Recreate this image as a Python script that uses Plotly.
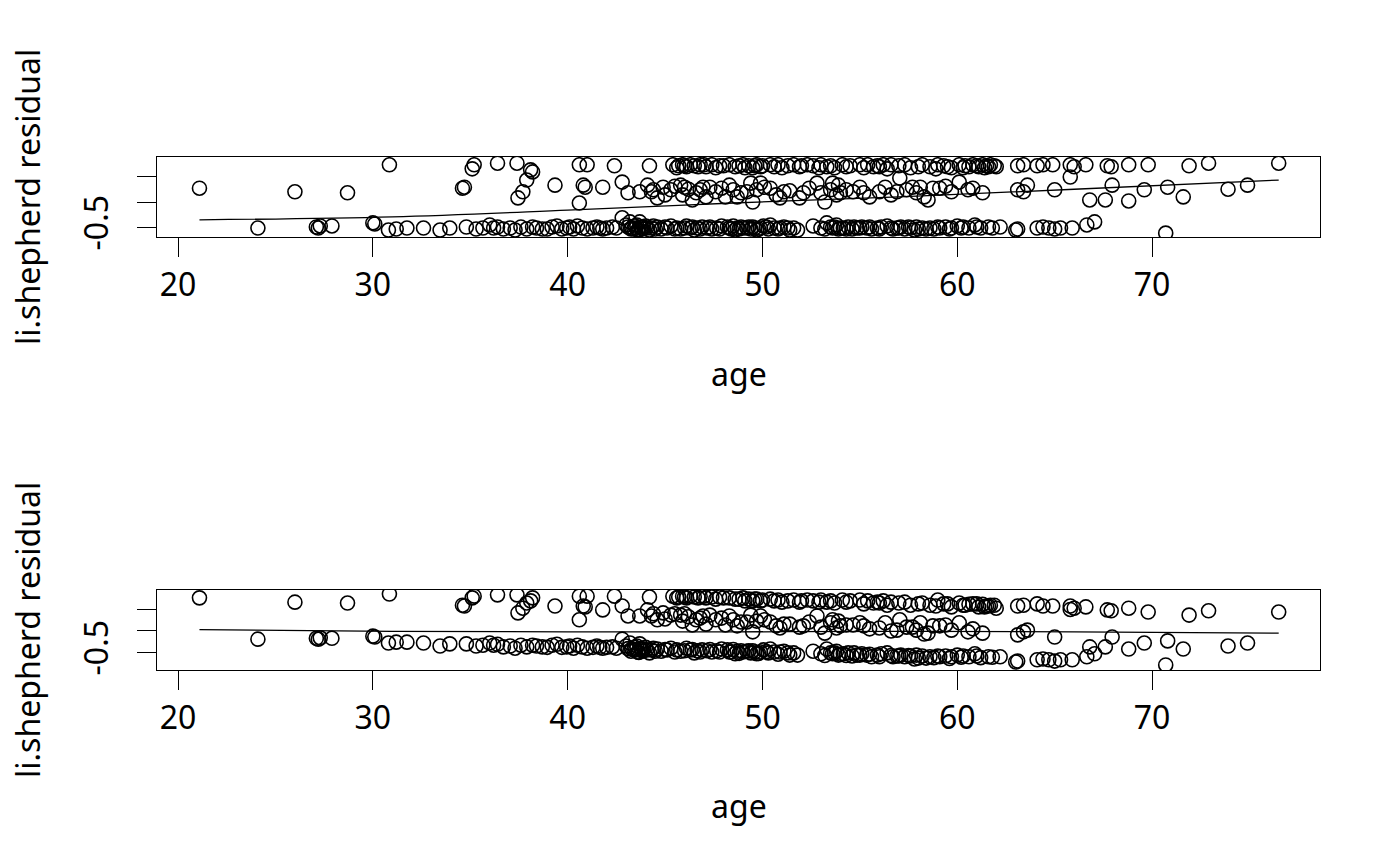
import plotly.graph_objects as go

# ---------------- data ----------------
# observations forming the upper band of the first panel
age_hi = [30.85, 35.1, 35.2, 36.4, 37.4, 38.1, 40.6, 41.0, 42.4, 44.2,
          45.4, 45.7, 45.9, 46.1, 46.3, 46.5, 46.8, 47.1, 47.4, 47.8,
          48.3, 48.6, 49.0, 49.3, 49.5, 49.7, 50.0, 50.4, 50.8, 51.3,
          51.6, 51.9, 52.3, 52.6, 53.0, 53.3, 53.7, 54.1, 54.5, 55.0,
          55.4, 55.7, 55.9, 56.2, 56.6, 57.0, 57.3, 57.6, 58.2, 58.6,
          59.0, 59.3, 59.7, 60.1, 60.4, 60.8, 61.1, 61.3, 61.5, 61.7,
          62.0, 63.1, 63.4, 64.1, 64.4, 64.9, 65.8, 66.0, 66.6, 67.7,
          67.9, 68.8, 69.8, 71.9, 72.9, 76.5,
          45.6, 46.0, 46.7, 47.0, 47.6, 48.0, 48.8, 49.1, 49.6, 49.9,
          50.6, 51.0, 52.0, 52.9, 53.5, 54.3, 55.2, 56.0, 56.4, 58.0,
          58.9, 59.5, 60.3, 60.6, 61.0, 61.4, 61.6, 61.9]
res1_hi = [0.73, 0.65, 0.73, 0.76, 0.76, 0.63, 0.73, 0.73, 0.71, 0.71,
           0.73, 0.71, 0.73, 0.69, 0.73, 0.71, 0.73, 0.69, 0.73, 0.71,
           0.73, 0.69, 0.73, 0.71, 0.67, 0.73, 0.71, 0.73, 0.73, 0.71,
           0.73, 0.69, 0.73, 0.71, 0.73, 0.69, 0.67, 0.73, 0.71, 0.73,
           0.73, 0.69, 0.71, 0.73, 0.73, 0.71, 0.73, 0.67, 0.73, 0.69,
           0.73, 0.71, 0.67, 0.73, 0.71, 0.73, 0.69, 0.73, 0.71, 0.73,
           0.69, 0.71, 0.73, 0.71, 0.73, 0.73, 0.73, 0.69, 0.73, 0.71,
           0.69, 0.73, 0.73, 0.71, 0.76, 0.76,
           0.67, 0.71, 0.69, 0.73, 0.67, 0.71, 0.71, 0.67, 0.71, 0.69,
           0.69, 0.67, 0.71, 0.67, 0.71, 0.69, 0.67, 0.69, 0.65, 0.69,
           0.65, 0.69, 0.67, 0.69, 0.71, 0.67, 0.69, 0.71]
res2_hi = [0.86, 0.77, 0.81, 0.84, 0.84, 0.70, 0.81, 0.81, 0.81, 0.79,
           0.81, 0.79, 0.81, 0.77, 0.81, 0.79, 0.81, 0.77, 0.79, 0.79,
           0.77, 0.74, 0.77, 0.74, 0.70, 0.74, 0.72, 0.74, 0.72, 0.70,
           0.72, 0.67, 0.72, 0.70, 0.72, 0.67, 0.65, 0.72, 0.70, 0.72,
           0.70, 0.65, 0.67, 0.70, 0.67, 0.65, 0.67, 0.60, 0.65, 0.60,
           0.72, 0.63, 0.56, 0.65, 0.60, 0.63, 0.56, 0.62, 0.58, 0.60,
           0.53, 0.58, 0.60, 0.63, 0.58, 0.58, 0.58, 0.53, 0.56, 0.49,
           0.47, 0.53, 0.44, 0.37, 0.47, 0.44,
           0.77, 0.79, 0.77, 0.81, 0.74, 0.77, 0.74, 0.70, 0.74, 0.70,
           0.70, 0.67, 0.70, 0.67, 0.70, 0.67, 0.63, 0.65, 0.60, 0.63,
           0.58, 0.63, 0.60, 0.62, 0.63, 0.56, 0.58, 0.60]

# observations forming the middle band of the first panel
age_mid = [21.1, 26.0, 28.7, 34.6, 34.7, 37.45, 37.7, 37.9, 38.2, 39.35,
           40.6, 40.8, 40.9, 41.8, 42.8, 43.1, 43.7, 44.1, 44.4, 44.6,
           44.9, 45.5, 45.8, 45.9, 46.2, 46.4, 46.8, 46.95, 47.3, 47.6,
           48.1, 48.5, 48.9, 49.4, 49.5, 49.7, 49.9, 50.4, 50.9, 51.4,
           51.9, 52.1, 52.8, 53.2, 53.5, 53.6, 53.8, 54.0, 54.65, 55.2,
           55.5, 56.3, 56.9, 57.05, 57.7, 58.1, 58.5, 58.75, 59.1, 59.4,
           60.1, 60.55, 63.1, 63.4, 63.6, 65.0, 65.8, 66.8, 67.6, 67.95,
           68.8, 69.6, 70.8, 71.6, 73.9, 74.9,
           44.3, 45.0, 45.3, 46.0, 46.6, 47.1, 47.9, 48.3, 48.7, 49.2,
           50.1, 50.7, 51.1, 52.4, 53.0, 53.9, 54.3, 55.0, 56.0, 56.6,
           57.4, 57.9, 58.3, 59.7, 60.8, 61.3]
res1_mid = [0.27, 0.20, 0.18, 0.27, 0.29, 0.08, 0.20, 0.43, 0.59, 0.33,
            -0.02, 0.33, 0.29, 0.29, 0.39, 0.18, 0.20, 0.33, 0.24, 0.08,
            0.29, 0.31, 0.33, 0.14, 0.25, 0.04, 0.24, 0.29, 0.29, 0.20,
            0.10, 0.24, 0.18, 0.37, 0.00, 0.24, 0.37, 0.27, 0.08, 0.22,
            0.08, 0.18, 0.37, 0.00, 0.24, 0.37, 0.14, 0.18, 0.20, 0.18,
            0.10, 0.29, 0.20, 0.47, 0.29, 0.29, 0.04, 0.27, 0.27, 0.31,
            0.39, 0.24, 0.24, 0.20, 0.33, 0.24, 0.49, 0.04, 0.04, 0.33,
            0.02, 0.24, 0.29, 0.10, 0.25, 0.33,
            0.20, 0.14, 0.24, 0.29, 0.18, 0.10, 0.27, 0.33, 0.10, 0.20,
            0.29, 0.14, 0.20, 0.27, 0.18, 0.33, 0.24, 0.29, 0.20, 0.14,
            0.24, 0.18, 0.10, 0.20, 0.27, 0.18]
res2_mid = [0.77, 0.67, 0.65, 0.60, 0.58, 0.42, 0.53, 0.65, 0.77, 0.58,
            0.26, 0.58, 0.56, 0.49, 0.58, 0.35, 0.35, 0.49, 0.40, 0.26,
            0.42, 0.40, 0.37, 0.23, 0.33, 0.14, 0.30, 0.35, 0.37, 0.26,
            0.14, 0.26, 0.21, 0.37, -0.02, 0.23, 0.35, 0.21, 0.07, 0.16,
            0.09, 0.12, 0.35, -0.05, 0.19, 0.26, 0.07, 0.12, 0.14, 0.12,
            0.05, 0.19, 0.02, 0.26, 0.09, 0.19, -0.05, 0.12, 0.12, 0.14,
            0.19, -0.02, -0.09, -0.02, 0.02, -0.14, 0.50, -0.37, -0.37, -0.14,
            -0.42, -0.28, -0.23, -0.42, -0.35, -0.28,
            0.35, 0.28, 0.37, 0.40, 0.26, 0.16, 0.30, 0.35, 0.12, 0.21,
            0.26, 0.12, 0.16, 0.21, 0.09, 0.23, 0.14, 0.19, 0.07, 0.00,
            0.09, 0.02, -0.07, 0.02, 0.05, -0.05]

# observations forming the lower band of the first panel
age_lo = [24.1, 27.1, 27.2, 27.3, 27.9, 30.0, 30.1, 30.8, 31.2, 31.75,
          32.6, 33.45, 33.95, 34.8, 35.3, 35.65, 36.0, 36.2, 36.4, 36.7,
          37.05, 37.3, 37.6, 37.9, 38.2, 38.4, 38.7, 38.95, 39.2, 39.45,
          39.7, 39.95, 40.1, 40.3, 40.5, 40.75, 41.0, 41.3, 41.5, 41.65,
          41.8, 42.0, 42.3, 42.5, 42.8, 43.0, 43.2, 43.3, 43.4, 43.55,
          43.6, 43.7, 43.8, 43.9, 44.05, 44.2, 44.4, 44.6, 44.8, 45.1,
          45.3, 45.6, 45.8, 46.1, 46.3, 46.5, 46.65, 46.9, 47.15, 47.4,
          47.65, 47.9, 48.2, 48.4, 48.6, 48.7, 48.9, 49.2, 49.4, 49.5,
          49.7, 49.9, 50.05, 50.3, 50.4, 50.6, 50.9, 51.1, 51.4, 51.6,
          51.8, 52.6, 53.0, 53.3, 53.5, 53.6, 53.8, 53.9, 54.15, 54.4,
          54.6, 54.85, 55.1, 55.35, 55.6, 55.9, 56.1, 56.4, 56.7, 56.9,
          57.1, 57.3, 57.6, 57.8, 57.9, 58.2, 58.4, 58.8, 59.1, 59.4,
          59.7, 60.0, 60.3, 60.6, 60.9, 61.2, 61.6, 62.2, 63.0, 63.1,
          64.1, 64.4, 64.7, 65.0, 65.3, 65.9, 66.65, 67.05, 70.7,
          43.1, 43.25, 43.45, 43.5, 43.65, 43.75, 43.85, 44.0, 44.3, 44.5,
          45.0, 45.5, 46.0, 46.4, 46.8, 47.3, 47.8, 48.3, 48.5, 48.8,
          49.0, 49.3, 49.6, 49.8, 50.2, 50.8, 51.3, 53.2, 53.7, 54.0,
          54.3, 54.7, 55.0, 55.5, 56.0, 56.6, 57.0, 57.5, 58.0, 58.6,
          59.0, 59.6, 60.2, 61.0, 61.8]
res1_lo = [-0.51, -0.49, -0.51, -0.47, -0.47, -0.41, -0.43, -0.55, -0.53, -0.51,
           -0.51, -0.55, -0.51, -0.49, -0.53, -0.51, -0.45, -0.51, -0.49, -0.53,
           -0.51, -0.55, -0.49, -0.53, -0.49, -0.51, -0.53, -0.53, -0.49, -0.47,
           -0.53, -0.51, -0.49, -0.53, -0.47, -0.51, -0.53, -0.51, -0.49, -0.51,
           -0.53, -0.51, -0.49, -0.51, -0.31, -0.45, -0.39, -0.51, -0.53, -0.45,
           -0.55, -0.39, -0.51, -0.49, -0.51, -0.55, -0.47, -0.49, -0.53, -0.51,
           -0.47, -0.51, -0.53, -0.47, -0.51, -0.55, -0.51, -0.49, -0.51, -0.53,
           -0.51, -0.47, -0.49, -0.53, -0.55, -0.51, -0.49, -0.51, -0.53, -0.49,
           -0.55, -0.51, -0.47, -0.53, -0.45, -0.51, -0.51, -0.49, -0.55, -0.51,
           -0.55, -0.47, -0.51, -0.41, -0.49, -0.51, -0.45, -0.53, -0.51, -0.49,
           -0.53, -0.51, -0.49, -0.51, -0.53, -0.51, -0.49, -0.47, -0.53, -0.51,
           -0.49, -0.53, -0.51, -0.55, -0.49, -0.51, -0.53, -0.53, -0.51, -0.49,
           -0.51, -0.47, -0.49, -0.51, -0.45, -0.51, -0.49, -0.49, -0.55, -0.53,
           -0.51, -0.49, -0.51, -0.53, -0.51, -0.51, -0.45, -0.39, -0.61,
           -0.49, -0.53, -0.47, -0.51, -0.55, -0.49, -0.53, -0.47, -0.51, -0.53,
           -0.49, -0.53, -0.51, -0.49, -0.53, -0.49, -0.53, -0.51, -0.47, -0.53,
           -0.51, -0.49, -0.51, -0.53, -0.49, -0.53, -0.51, -0.53, -0.49, -0.51,
           -0.53, -0.49, -0.51, -0.49, -0.53, -0.51, -0.51, -0.49, -0.53, -0.51,
           -0.49, -0.53, -0.51, -0.49, -0.51]
res2_lo = [-0.19, -0.17, -0.19, -0.16, -0.17, -0.12, -0.14, -0.28, -0.26, -0.26,
           -0.28, -0.35, -0.30, -0.30, -0.35, -0.33, -0.28, -0.33, -0.31, -0.37,
           -0.35, -0.40, -0.33, -0.37, -0.33, -0.35, -0.37, -0.38, -0.33, -0.31,
           -0.38, -0.37, -0.35, -0.40, -0.33, -0.37, -0.40, -0.38, -0.35, -0.38,
           -0.40, -0.38, -0.37, -0.40, -0.19, -0.35, -0.28, -0.42, -0.44, -0.35,
           -0.49, -0.30, -0.44, -0.42, -0.44, -0.51, -0.40, -0.42, -0.47, -0.44,
           -0.40, -0.44, -0.47, -0.40, -0.44, -0.51, -0.46, -0.44, -0.46, -0.49,
           -0.46, -0.42, -0.44, -0.49, -0.53, -0.47, -0.46, -0.47, -0.51, -0.46,
           -0.53, -0.49, -0.44, -0.51, -0.42, -0.49, -0.49, -0.47, -0.56, -0.51,
           -0.56, -0.47, -0.53, -0.42, -0.51, -0.53, -0.47, -0.56, -0.53, -0.51,
           -0.58, -0.56, -0.53, -0.56, -0.60, -0.56, -0.53, -0.51, -0.60, -0.58,
           -0.56, -0.60, -0.58, -0.65, -0.56, -0.58, -0.63, -0.62, -0.60, -0.58,
           -0.60, -0.56, -0.58, -0.60, -0.53, -0.62, -0.60, -0.60, -0.72, -0.70,
           -0.67, -0.65, -0.67, -0.70, -0.67, -0.67, -0.60, -0.53, -0.79,
           -0.41, -0.47, -0.38, -0.44, -0.50, -0.41, -0.47, -0.38, -0.44, -0.47,
           -0.43, -0.49, -0.46, -0.43, -0.49, -0.43, -0.49, -0.49, -0.43, -0.52,
           -0.49, -0.46, -0.49, -0.52, -0.48, -0.54, -0.51, -0.57, -0.51, -0.54,
           -0.57, -0.51, -0.56, -0.54, -0.60, -0.57, -0.58, -0.57, -0.63, -0.60,
           -0.58, -0.64, -0.61, -0.58, -0.61]

# smooth trend lines
smooth_age = [21.1, 31.0, 40.0, 48.5, 57.0, 66.0, 76.5]
smooth1 = [-0.35, -0.29, -0.16, -0.02, 0.10, 0.25, 0.43]
smooth2 = [0.03, -0.01, -0.02, -0.02, -0.01, -0.02, -0.05]

x_ticks = [20, 30, 40, 50, 60, 70]
y_ticks = [-0.5, 0.0, 0.5]
y_ticktext = ["-0.5", "", ""]

# ---------------- figure ----------------
age = age_hi + age_mid + age_lo
res1 = res1_hi + res1_mid + res1_lo
res2 = res2_hi + res2_mid + res2_lo

FONT = "Noto Sans"
FS = 32
W, H = 1400, 866       # reference picture size (positions below are fractions of it)
H_PAGE = 879           # page height so that the captured picture matches the reference

marker = dict(symbol="circle-open", size=14, color="black", line=dict(width=1.6, color="black"))

fig = go.Figure()
fig.add_trace(go.Scatter(x=age, y=res1, mode="markers", marker=marker, xaxis="x", yaxis="y", showlegend=False))
fig.add_trace(go.Scatter(x=smooth_age, y=smooth1, mode="lines", line=dict(color="black", width=1.3),
                         line_shape="spline", xaxis="x", yaxis="y", showlegend=False))
fig.add_trace(go.Scatter(x=age, y=res2, mode="markers", marker=marker, xaxis="x2", yaxis="y2", showlegend=False))
fig.add_trace(go.Scatter(x=smooth_age, y=smooth2, mode="lines", line=dict(color="black", width=1.3),
                         line_shape="spline", xaxis="x2", yaxis="y2", showlegend=False))

xd = [157 / W, 1320 / W]
yd_top = [1 - 237 / H, 1 - 157 / H]
yd_bot = [1 - 670 / H, 1 - 590 / H]

def xax(anchor):
    return dict(domain=xd, anchor=anchor, range=[18.92, 78.62], tickvals=x_ticks,
                showline=True, mirror=True, linecolor="black", linewidth=1.3,
                ticks="outside", ticklen=19, tickwidth=1.3, tickcolor="black",
                showgrid=False, zeroline=False, ticklabelstandoff=0,
                tickfont=dict(family=FONT, size=FS, color="black"))

def yax(anchor, rng, dom):
    return dict(domain=dom, anchor=anchor, range=rng, tickvals=y_ticks, ticktext=y_ticktext,
                showline=True, mirror=True, linecolor="black", linewidth=1.3,
                ticks="outside", ticklen=19, tickwidth=1.3, tickcolor="black",
                showgrid=False, zeroline=False, tickangle=-90, ticklabelstandoff=16,
                tickfont=dict(family=FONT, size=FS, color="black"))

fig.update_layout(
    width=W, height=H_PAGE, margin=dict(l=0, r=0, t=0, b=0),
    paper_bgcolor="white", plot_bgcolor="white",
    xaxis=xax("y"), yaxis=yax("x", [-0.686, 0.882], yd_top),
    xaxis2=xax("y2"), yaxis2=yax("x2", [-0.907, 0.953], yd_bot),
    font=dict(family=FONT, size=FS, color="black"),
    annotations=[
        dict(text="age", x=738.5 / W, y=1 - 373 / H, xref="paper", yref="paper",
             showarrow=False, xanchor="center", yanchor="middle", font=dict(family=FONT, size=FS)),
        dict(text="age", x=738.5 / W, y=1 - 805 / H, xref="paper", yref="paper",
             showarrow=False, xanchor="center", yanchor="middle", font=dict(family=FONT, size=FS)),
        dict(text="li.shepherd residual", x=27 / W, y=1 - 197 / H, xref="paper", yref="paper",
             showarrow=False, xanchor="center", yanchor="middle", textangle=-90,
             font=dict(family=FONT, size=FS)),
        dict(text="li.shepherd residual", x=27 / W, y=1 - 630 / H, xref="paper", yref="paper",
             showarrow=False, xanchor="center", yanchor="middle", textangle=-90,
             font=dict(family=FONT, size=FS)),
    ],
)

fig.write_html("out.html", config={"displayModeBar": False},
               post_script="document.body.style.margin='0';"
                           "document.body.style.overflow='hidden';"
                           "document.documentElement.style.overflow='hidden';")
